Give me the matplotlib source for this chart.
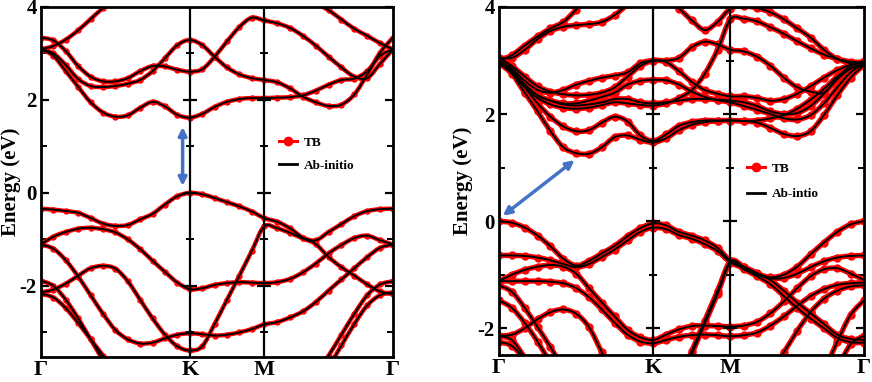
import numpy as np
import matplotlib
matplotlib.use("Agg")
import matplotlib.pyplot as plt
from matplotlib.lines import Line2D
from matplotlib.path import Path
from matplotlib.patches import PathPatch

nan = float("nan")

# ---------------- path / axes data ----------------
path_labels = ["Γ", "K", "M", "Γ"]
path_nodes = [0.0, 1.0, 1.5, 1.5 + np.sqrt(3) / 2]
segment_points = [12, 6, 10]
yticks_major = [-2, 0, 2, 4]
yticks_minor = [-3, -1, 1, 3]
left_ylim = (-3.53, 4.0)
right_ylim = (-2.5, 4.0)

# ---------------- left panel bands (energy in eV at 29 k-points) ----------------
left_v1 = [-0.34, -0.36, -0.39, -0.43, -0.54, -0.66, -0.71, -0.69, -0.57, -0.45, -0.25, -0.07, 0.0,
           -0.03, -0.11, -0.2, -0.29, -0.4, -0.54,
           -0.62, -0.76, -0.96, -1.02, -0.84, -0.67, -0.5, -0.39, -0.35, -0.34]
left_v2 = [-1.11, -0.94, -0.84, -0.77, -0.75, -0.78, -0.85, -1.0, -1.21, -1.46, -1.7, -1.93, -2.07,
           -2.05, -1.98, -1.94, -1.92, -1.93, -1.94,
           -1.92, -1.85, -1.71, -1.52, -1.3, -1.12, -0.97, -0.92, -1.02, -1.11]
left_v3 = [-1.11, -1.2, -1.45, -1.8, -2.2, -2.6, -2.95, -3.15, -3.24, -3.22, -3.13, -3.05, -3.02,
           -3.04, -3.07, -3.05, -3.0, -2.93, -2.83,
           -2.78, -2.68, -2.55, -2.35, -2.1, -1.86, -1.62, -1.38, -1.18, -1.11]
left_v4 = [-2.14, -2.08, -1.95, -1.78, -1.62, -1.57, -1.63, -1.9, -2.3, -2.7, -3.05, -3.3, -3.39,
           -3.3, -2.82, -2.3, -1.78, -1.25, -0.72,
           -0.76, -0.86, -0.98, -1.1, -1.38, -1.6, -1.78, -1.97, -2.12, -2.18]
left_v5 = [-1.89, -2.0, -2.3, -2.7, -3.15, -3.6] + [nan] * 23
left_v6 = [-2.17, -2.25, -2.48, -2.8, -3.15, -3.5, -3.9] + [nan] * 22
left_v7 = [nan] * 22 + [-3.9, -3.5, -3.05, -2.6, -2.2, -1.97, -1.9]
left_v8 = [nan] * 23 + [-3.75, -3.28, -2.82, -2.42, -2.2, -2.14]

left_c1 = [3.09, 2.95, 2.62, 2.28, 1.95, 1.73, 1.64, 1.67, 1.83, 1.96, 1.86, 1.68, 1.62,
           1.7, 1.85, 1.96, 2.02, 2.04, 2.04,
           2.05, 2.06, 2.1, 2.2, 2.33, 2.43, 2.46, 2.62, 2.95, 3.09]
left_c2 = [3.09, 3.0, 2.75, 2.45, 2.3, 2.28, 2.3, 2.35, 2.43, 2.62, 2.9, 3.18, 3.29,
           3.18, 2.93, 2.7, 2.55, 2.47, 2.43,
           2.38, 2.25, 2.07, 1.95, 1.87, 1.9, 2.12, 2.55, 3.02, 3.34]
left_c3 = [3.34, 3.28, 3.05, 2.73, 2.5, 2.4, 2.4, 2.47, 2.62, 2.73, 2.72, 2.65, 2.61,
           2.66, 2.93, 3.26, 3.57, 3.77, 3.71,
           3.65, 3.55, 3.38, 3.17, 2.93, 2.7, 2.5, 2.47, 2.78, 3.09]
left_c4 = [3.09, 3.16, 3.3, 3.5, 3.74, 3.98, 4.2] + [nan] * 22
left_c5 = [nan] * 21 + [4.2, 4.08, 3.93, 3.73, 3.53, 3.38, 3.22, 3.09]

# ---------------- right panel bands ----------------
right_v1 = [0.0, -0.03, -0.12, -0.27, -0.47, -0.7, -0.83, -0.74, -0.6, -0.46, -0.28, -0.13, -0.04,
            -0.08, -0.2, -0.27, -0.36, -0.5, -0.74,
            -0.86, -0.98, -1.05, -1.0, -0.85, -0.62, -0.4, -0.2, -0.06, 0.0]
right_v2 = [-0.64, -0.64, -0.65, -0.68, -0.73, -0.8, -0.86, -0.8, -0.67, -0.53, -0.36, -0.2, -0.12,
            -0.15, -0.26, -0.33, -0.43, -0.56, -0.77,
            -0.88, -1.0, -1.07, -1.06, -0.98, -0.86, -0.75, -0.68, -0.65, -0.64]
right_v3 = [-1.12, -1.0, -0.91, -0.85, -0.82, -0.85, -0.98, -1.25, -1.52, -1.78, -2.03, -2.17, -2.22,
            -2.12, -2.02, -1.96, -1.95, -1.96, -1.97,
            -1.95, -1.88, -1.72, -1.5, -1.25, -1.03, -0.9, -0.88, -0.98, -1.1]
right_v4 = [-1.12, -1.12, -1.12, -1.12, -1.13, -1.16, -1.25, -1.42, -1.65, -1.9, -2.12, -2.25, -2.28,
            -2.22, -2.16, -2.13, -2.12, -2.13, -2.15,
            -2.13, -2.08, -1.95, -1.78, -1.58, -1.4, -1.27, -1.19, -1.16, -1.15]
right_v5 = [-2.14, -2.12, -2.0, -1.83, -1.7, -1.65, -1.73, -1.98, -2.45, -2.9, -3.3, -3.6, -3.7,
            -3.6, -3.0, -2.42, -1.86, -1.3, -0.75,
            -0.85, -0.97, -1.1, -1.3, -1.52, -1.72, -1.92, -2.12, -2.2, -2.22]
right_v6 = [nan] * 10 + [-3.4, -3.65, -3.75,
            -3.65, -3.05, -2.48, -1.92, -1.36, -0.78,
            -0.9, -1.03, -1.18, -1.4, -1.62, -1.82, -2.0, -2.18, -2.26, -2.27]
right_v7 = [-1.2, -1.32, -1.62, -1.98, -2.35, -2.75] + [nan] * 23
right_v8 = [-1.48, -1.62, -1.9, -2.25, -2.65] + [nan] * 24
right_v9 = [-2.26, -2.33, -2.6, -3.0] + [nan] * 25
right_v10 = [-2.14, -2.22, -2.55, -2.95] + [nan] * 25
right_v11 = [nan] * 18 + [-3.5, -3.35, -3.1, -2.8, -2.45, -2.05, -1.7, -1.45, -1.3, -1.22, -1.2]
right_v12 = [nan] * 24 + [-3.3, -2.8, -2.25, -1.75, -1.48]
right_v13 = [nan] * 25 + [-3.2, -2.75, -2.3, -2.14]

right_c1 = [2.95, 2.75, 2.4, 2.05, 1.68, 1.38, 1.27, 1.26, 1.38, 1.57, 1.6, 1.52, 1.47,
            1.55, 1.7, 1.8, 1.85, 1.87, 1.88,
            1.87, 1.84, 1.74, 1.63, 1.59, 1.68, 1.98, 2.35, 2.68, 2.92]
right_c2 = [2.95, 2.78, 2.5, 2.2, 1.95, 1.77, 1.68, 1.7, 1.84, 1.95, 1.86, 1.6, 1.5,
            1.62, 1.78, 1.85, 1.88, 1.88, 1.88,
            1.87, 1.88, 1.92, 1.98, 2.1, 2.27, 2.47, 2.7, 2.85, 2.93]
right_c3 = [3.0, 2.85, 2.62, 2.45, 2.4, 2.45, 2.55, 2.62, 2.68, 2.72, 2.78, 2.95, 3.0,
            2.97, 2.8, 2.6, 2.45, 2.38, 2.33,
            2.33, 2.3, 2.25, 2.28, 2.38, 2.52, 2.68, 2.82, 2.92, 2.97]
right_c4 = [3.05, 2.9, 2.7, 2.52, 2.42, 2.37, 2.35, 2.36, 2.4, 2.5, 2.7, 2.9, 3.0,
            3.0, 3.05, 3.25, 3.35, 3.3, 3.2,
            3.17, 3.07, 2.9, 2.68, 2.5, 2.42, 2.4, 2.68, 2.9, 2.99]
right_c5 = [2.98, 2.82, 2.55, 2.35, 2.25, 2.2, 2.2, 2.25, 2.32, 2.4, 2.55, 2.62, 2.64,
            2.63, 2.55, 2.42, 2.32, 2.26, 2.22,
            2.15, 2.08, 2.0, 1.92, 1.9, 1.98, 2.2, 2.5, 2.78, 2.94]
right_c6 = [2.95, 2.78, 2.5, 2.3, 2.18, 2.12, 2.1, 2.12, 2.17, 2.22, 2.2, 2.17, 2.16,
            2.2, 2.3, 2.45, 2.75, 3.2, 3.77,
            3.78, 3.73, 3.62, 3.5, 3.36, 3.23, 3.11, 3.03, 2.98, 2.96]
right_c7 = [2.98, 2.8, 2.55, 2.35, 2.25, 2.18, 2.16, 2.18, 2.22, 2.28, 2.28, 2.22, 2.2,
            2.22, 2.25, 2.28, 2.28, 2.27, 2.25,
            2.22, 2.15, 2.05, 2.0, 2.02, 2.15, 2.38, 2.65, 2.85, 2.95]
right_c8 = [3.0, 3.1, 3.28, 3.45, 3.6, 3.72, 3.95, 4.2] + [nan] * 21
right_c9 = [3.05, 3.05, 3.2, 3.4, 3.55, 3.63, 3.66, 3.68, 3.72, 3.85, 4.05, 4.3] + [nan] * 17
right_c10 = [nan] * 13 + [4.15, 3.97, 3.75, 3.57, 3.72, 3.97,
             4.02, 3.98, 3.9, 3.77, 3.6, 3.43, 3.2, 3.03, 2.95, 2.9]

left_bands = [left_v1, left_v2, left_v3, left_v4, left_v5, left_v6, left_v7, left_v8,
              left_c1, left_c2, left_c3, left_c4, left_c5]
right_bands = [right_v1, right_v2, right_v3, right_v4, right_v5, right_v6, right_v7,
               right_v8, right_v9, right_v10, right_v11, right_v12, right_v13,
               right_c1, right_c2, right_c3, right_c4, right_c5, right_c6, right_c7,
               right_c8, right_c9, right_c10]

# gap arrows (data coords): (start, end)
left_arrow = ((0.952, 1.42), (0.952, 0.15))
right_arrow = ((0.49, 1.14), (0.025, 0.1))

# ---------------- build k axis ----------------
k_parts = [np.linspace(path_nodes[0], path_nodes[1], segment_points[0] + 1)]
k_parts.append(np.linspace(path_nodes[1], path_nodes[2], segment_points[1] + 1)[1:])
k_parts.append(np.linspace(path_nodes[2], path_nodes[3], segment_points[2] + 1)[1:])
kpath = np.concatenate(k_parts)

plt.rcParams["axes.unicode_minus"] = False
SERIF = ["Liberation Serif", "DejaVu Serif"]

fig = plt.figure(figsize=(8.72, 3.82), dpi=100)
axL = fig.add_axes([41 / 872, 25 / 382, 352 / 872, 350 / 382])
axR = fig.add_axes([499 / 872, 27 / 382, 365 / 872, 348 / 382])


def smooth_path(x, y):
    """Catmull-Rom curve through the given points, drawn as cubic Bezier pieces."""
    verts, codes = [], []
    ok = ~np.isnan(y)
    idx = np.where(ok)[0]
    if len(idx) == 0:
        return None
    runs = np.split(idx, np.where(np.diff(idx) > 1)[0] + 1)
    for run in runs:
        px, py = x[run], y[run]
        n = len(px)
        if n < 2:
            continue
        verts.append((px[0], py[0]))
        codes.append(Path.MOVETO)
        for i in range(n - 1):
            i0 = max(i - 1, 0)
            i3 = min(i + 2, n - 1)
            c1 = (px[i] + (px[i + 1] - px[i0]) / 6, py[i] + (py[i + 1] - py[i0]) / 6)
            c2 = (px[i + 1] - (px[i3] - px[i]) / 6, py[i + 1] - (py[i3] - py[i]) / 6)
            verts += [c1, c2, (px[i + 1], py[i + 1])]
            codes += [Path.CURVE4] * 3
    if not verts:
        return None
    return Path(verts, codes)


def draw_panel(ax, bands, ylim, ms, red_lw, legend_anchor, ab_label, arrow, lspacing, label_x):
    for E in bands:
        E = np.asarray(E, dtype=float)
        p = smooth_path(kpath, E)
        if p is not None:
            ax.add_patch(PathPatch(p, fill=False, edgecolor="#ff0000", lw=red_lw, zorder=2))
            ax.add_patch(PathPatch(p, fill=False, edgecolor="black", lw=1.4, zorder=3))
        ax.plot(kpath, E, ls="none", marker="o", ms=ms, mec="#ff0000",
                mfc="#ff0000", zorder=2)
    for xn in path_nodes[1:3]:
        ax.axvline(xn, color="black", lw=1.6, zorder=4)
        ax.plot([xn] * len(yticks_major), yticks_major, ls="none", marker="_",
                ms=10, mew=1.6, color="black", zorder=4)
        ax.plot([xn] * len(yticks_minor), yticks_minor, ls="none", marker="_",
                ms=6, mew=1.4, color="black", zorder=4)
    ax.set_xticks(path_nodes)
    ax.set_xticklabels(path_labels, fontfamily=SERIF, fontweight="bold", fontsize=16)
    ax.tick_params(axis="x", length=0, pad=2)
    ax.set_yticks(yticks_major)
    ax.set_yticks(yticks_minor, minor=True)
    ax.set_yticklabels([str(t) for t in yticks_major], fontfamily=SERIF,
                       fontweight="bold", fontsize=15)
    ax.tick_params(axis="y", which="major", direction="in", length=6, width=1.6,
                   right=True, pad=3)
    ax.tick_params(axis="y", which="minor", direction="in", length=4, width=1.4,
                   right=True)
    ax.set_xlim(path_nodes[0], path_nodes[-1])
    ax.set_ylim(*ylim)
    for sp in ax.spines.values():
        sp.set_linewidth(2.0)
    ax.set_ylabel("Energy (eV)", fontfamily=SERIF, fontweight="bold", fontsize=15)
    ax.yaxis.set_label_coords(label_x, 0.5)
    handles = [Line2D([], [], color="#ff0000", lw=2.2, marker="o", ms=6),
               Line2D([], [], color="black", lw=2.0)]
    ax.legend(handles, ["TB", ab_label], loc="upper left", bbox_to_anchor=legend_anchor,
              frameon=False, handlelength=1.4, handletextpad=0.5, labelspacing=lspacing,
              borderaxespad=0, prop={"family": SERIF, "weight": "bold", "size": 9.5})
    ax.annotate("", xy=arrow[1], xytext=arrow[0],
                arrowprops=dict(arrowstyle="<|-|>", color="#4472c4", lw=2.5,
                                mutation_scale=12, shrinkA=0, shrinkB=0), zorder=5)


draw_panel(axL, left_bands, left_ylim, 3.6, 3.2, (0.66, 0.645), "Ab-initio",
           left_arrow, 0.8, -0.057)
draw_panel(axR, right_bands, right_ylim, 5.0, 3.8, (0.665, 0.568), "Ab-intio",
           right_arrow, 1.0, -0.072)

fig.savefig("out.png", dpi=100)
